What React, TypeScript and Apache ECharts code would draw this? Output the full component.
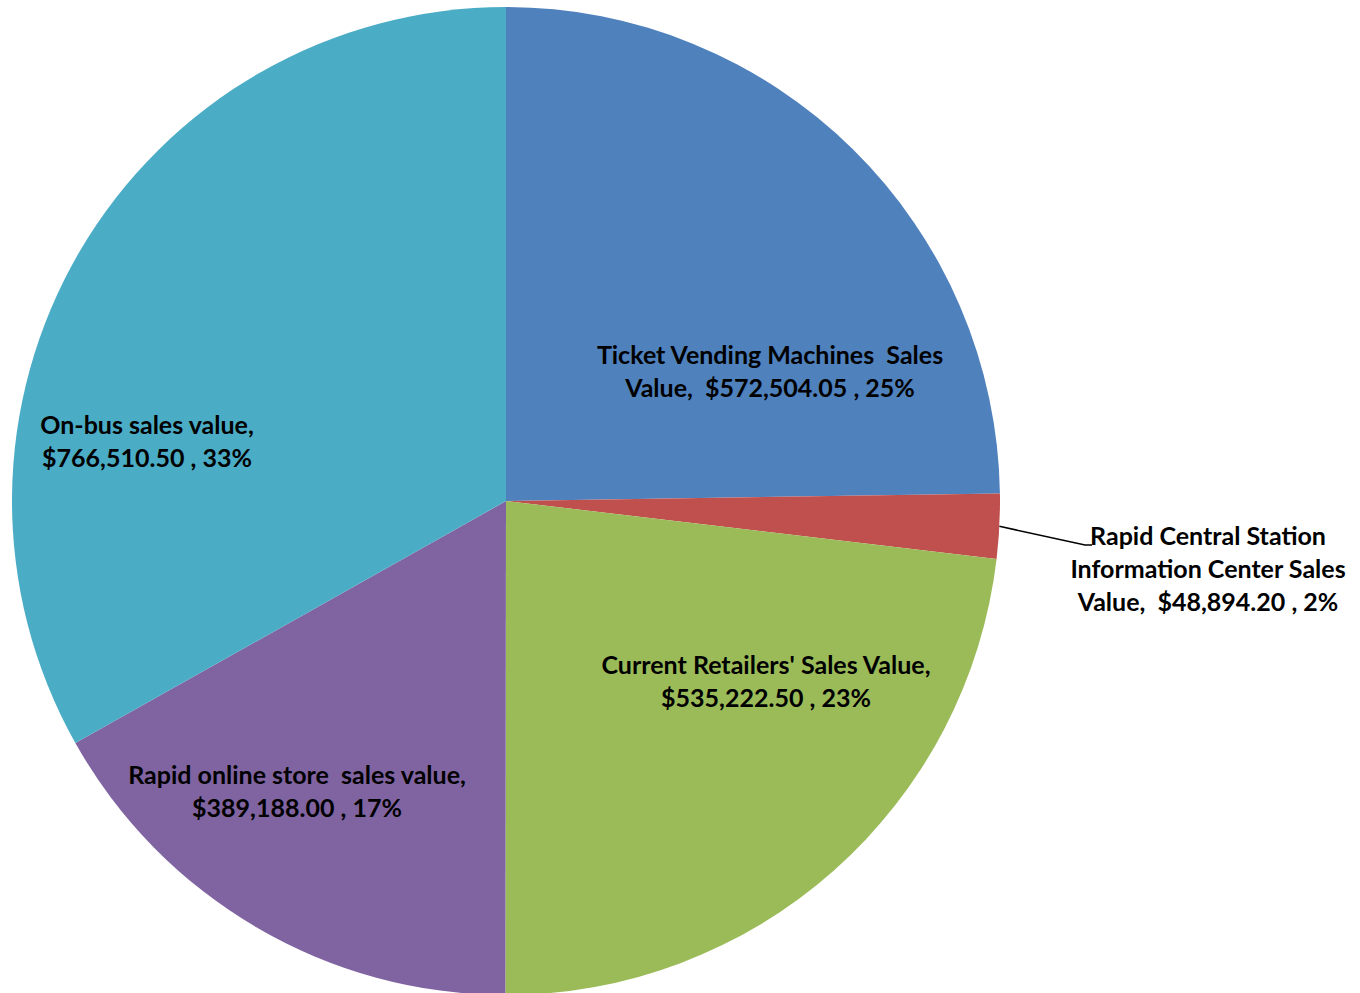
import React, { useEffect, useRef } from "react";
import * as echarts from "echarts";

const categories = [
  "Ticket Vending Machines  Sales\nValue",
  "Rapid Central Station\nInformation Center Sales\nValue",
  "Current Retailers' Sales Value",
  "Rapid online store  sales value",
  "On-bus sales value",
];
const separators = ["  ", "  ", "\n", "\n", "\n"];
const salesValues = [572504.05, 48894.2, 535222.5, 389188.0, 766510.5];
const colors = ["#4F81BD", "#C0504D", "#9BBB59", "#8064A2", "#4BACC6"];
const labelPositions = ["inside", "outside", "inside", "inside", "inside"];

// layout constants
const CX = 506;
const CY = 501;
const R = 494;
const labelCenters: [number, number][] = [
  [770, 370],
  [1208, 568],
  [766, 680],
  [297, 790],
  [147, 440],
];
const elbow: [number, number] = [1085, 545];
const elbowEnd: [number, number] = [1092, 545];

const fmt = (v: number) =>
  v.toLocaleString("en-US", { minimumFractionDigits: 2, maximumFractionDigits: 2 });

const total = salesValues.reduce((a, b) => a + b, 0);
const midAngle = (i: number) => {
  const before = salesValues.slice(0, i).reduce((a, b) => a + b, 0);
  // degrees clockwise from the top
  return ((before + salesValues[i] / 2) / total) * 360;
};

export default function App() {
  const ref = useRef<HTMLDivElement>(null);
  useEffect(() => {
    if (!ref.current) return;
    const chart = echarts.init(ref.current, undefined, { renderer: "svg" });
    chart.setOption({
      animation: false,
      backgroundColor: "#ffffff",
      series: [
        {
          type: "pie",
          center: [CX, CY],
          radius: [0, R],
          startAngle: 90,
          clockwise: true,
          percentPrecision: 0,
          data: categories.map((name, i) => ({
            name,
            value: salesValues[i],
            itemStyle: { color: colors[i] },
            label: { position: labelPositions[i] },
            labelLine: { show: labelPositions[i] === "outside" },
          })),
          label: {
            show: true,
            color: "#000",
            fontFamily: "Lato, 'Open Sans', sans-serif",
            fontWeight: "bold",
            fontSize: 25,
            lineHeight: 33,
            align: "center",
            overflow: "none",
            edgeDistance: 0,
            bleedMargin: 0,
            formatter: (p: any) =>
              `${p.name},${separators[p.dataIndex]}$${fmt(p.value)} , ${p.percent}%`,
          },
          labelLine: {
            show: true,
            length: 60,
            length2: 10,
            lineStyle: { color: "#000", width: 1.5 },
          },
          labelLayout: (params: any) => {
            const i = params.dataIndex;
            const c = labelCenters[i];
            const out: any = { x: c[0], y: c[1], align: "center", verticalAlign: "middle" };
            if (labelPositions[i] === "outside") {
              const a = ((midAngle(i) - 90) * Math.PI) / 180;
              out.labelLinePoints = [
                [CX + R * Math.cos(a), CY + R * Math.sin(a)],
                elbow,
                elbowEnd,
              ];
            }
            return out;
          },
          emphasis: { disabled: true },
        },
      ],
    });
    return () => chart.dispose();
  }, []);
  return (
    <div
      ref={ref}
      style={{ position: "fixed", left: 0, top: 0, width: 1360, height: 993 }}
    />
  );
}
